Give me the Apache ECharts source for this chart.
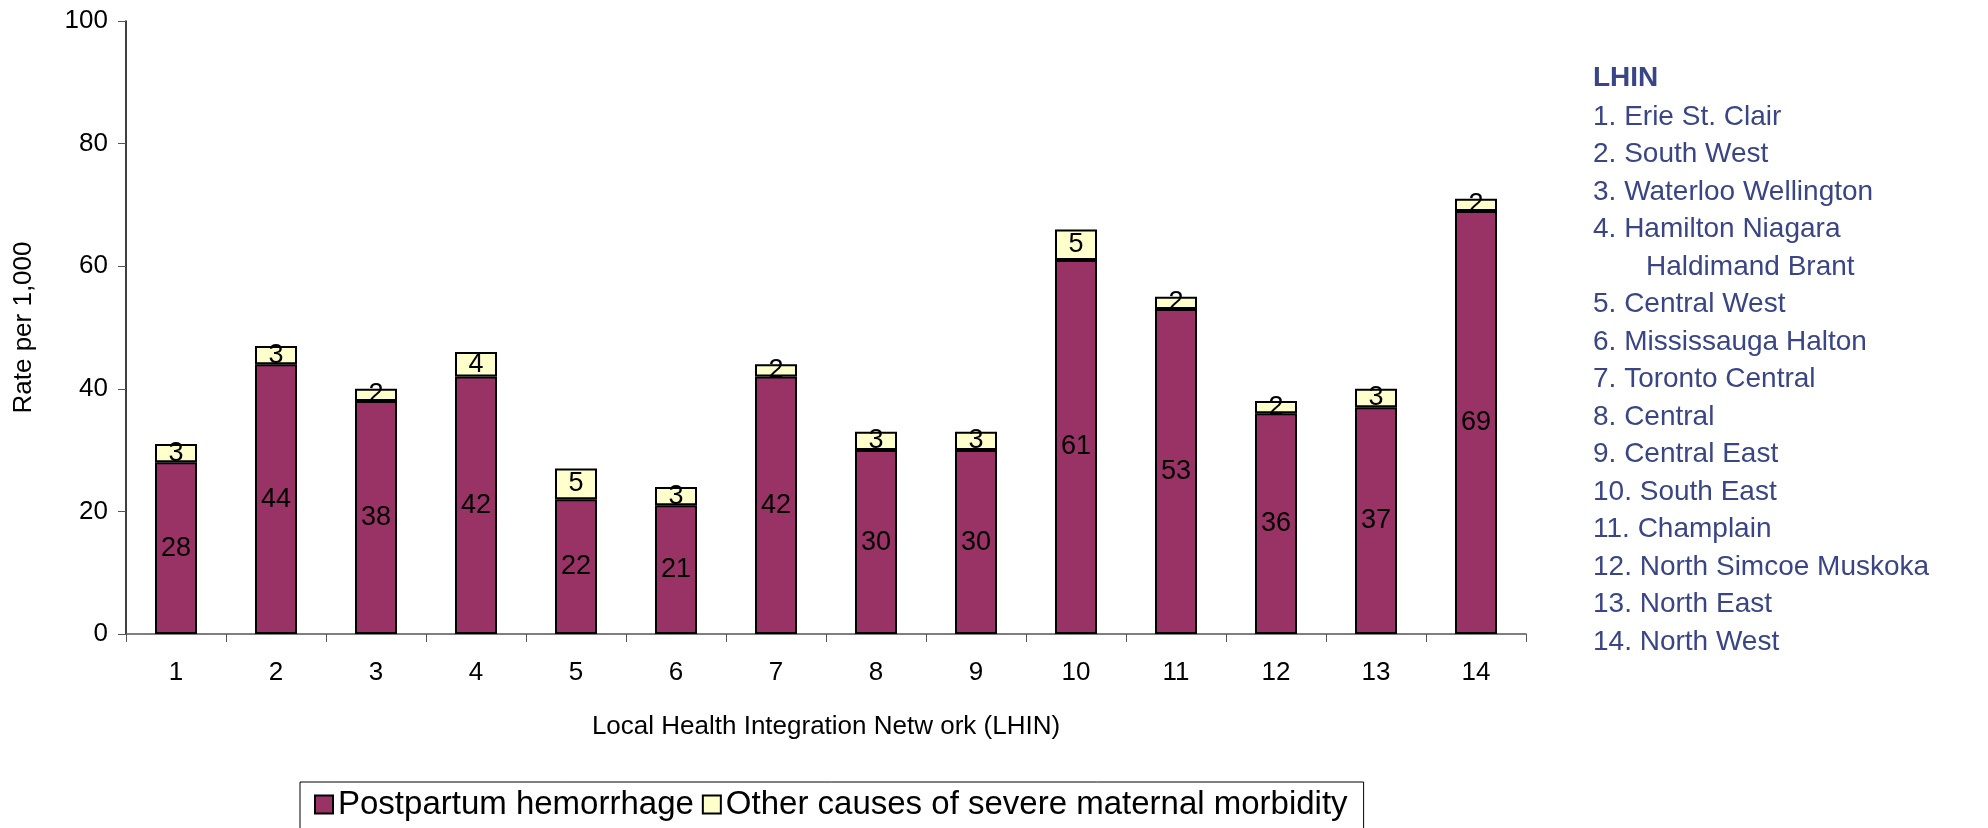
<!DOCTYPE html>
<html>
<head>
<meta charset="utf-8">
<script src="https://cdn.jsdelivr.net/npm/echarts@6/dist/echarts.min.js"></script>
<style>
html,body{margin:0;padding:0;background:#fff;}
#chart{width:1988px;height:828px;}
</style>
</head>
<body>
<div id="chart"></div>
<script>
const categories = ['1','2','3','4','5','6','7','8','9','10','11','12','13','14'];
const postpartum = [28,44,38,42,22,21,42,30,30,61,53,36,37,69];
const otherCauses = [3,3,2,4,5,3,2,3,3,5,2,2,3,2];
const seriesNames = ['Postpartum hemorrhage','Other causes of severe maternal morbidity'];
const yTicks = [0,20,40,60,80,100];
const lhinTitle = 'LHIN';
const lhinList = ['1. Erie St. Clair','2. South West','3. Waterloo Wellington','4. Hamilton Niagara','    Haldimand Brant','5. Central West','6. Mississauga Halton','7. Toronto Central','8. Central','9. Central East','10. South East','11. Champlain','12. North Simcoe Muskoka','13. North East','14. North West'];

const FONT = '"Liberation Sans", Arial, sans-serif';
const chart = echarts.init(document.getElementById('chart'));

const listGraphics = [{
  type:'text', left:1593, top:64,
  style:{text:lhinTitle, font:'bold 28px '+FONT, fill:'#3a4585'}
}];
lhinList.forEach((t,i)=>{
  const indent = t.startsWith('    ');
  listGraphics.push({
    type:'text', left:1593 + (indent ? 53 : 0), top:103+i*37.5,
    style:{text:t.trim(), font:'28px '+FONT, fill:'#3a4585'}
  });
});

const labelStyle = {show:true, position:'inside', color:'#000', fontSize:27, fontFamily:FONT};

chart.setOption({
  animation:false,
  backgroundColor:'#fff',
  textStyle:{fontFamily:FONT},
  grid:{left:126, right:462, top:21, bottom:194},
  legend:{
    data:seriesNames,
    left:300, top:782,
    padding:[6,16,12,14],
    borderColor:'#000', borderWidth:1,
    itemWidth:18, itemHeight:18, itemGap:8,
    icon:'rect',
    textStyle:{fontSize:33, color:'#000', fontFamily:FONT}
  },
  xAxis:{
    type:'category', data:categories,
    name:'Local Health Integration Netw ork (LHIN)',
    nameLocation:'middle', nameGap:80,
    nameTextStyle:{fontSize:26, color:'#000'},
    axisLine:{lineStyle:{color:'#555', width:1.5}},
    axisTick:{show:true, length:8, lineStyle:{color:'#555'}},
    axisLabel:{fontSize:26, color:'#000', margin:26}
  },
  yAxis:{
    type:'value', min:yTicks[0], max:yTicks[yTicks.length-1], interval:20,
    name:'Rate per 1,000', nameLocation:'middle', nameGap:89,
    nameTextStyle:{fontSize:26, color:'#000'},
    axisLine:{show:true, lineStyle:{color:'#000', width:1.5}},
    axisTick:{show:true, length:8, lineStyle:{color:'#555'}},
    axisLabel:{fontSize:26, color:'#000', margin:18},
    splitLine:{show:false}
  },
  series:[
    {name:seriesNames[0], type:'bar', stack:'s', data:postpartum, barWidth:42,
     itemStyle:{color:'#993366', borderColor:'#000', borderWidth:2},
     label:labelStyle},
    {name:seriesNames[1], type:'bar', stack:'s', data:otherCauses, barWidth:42,
     itemStyle:{color:'#FFFFCC', borderColor:'#000', borderWidth:2},
     label:labelStyle}
  ],
  graphic:listGraphics
});
</script>
</body>
</html>
